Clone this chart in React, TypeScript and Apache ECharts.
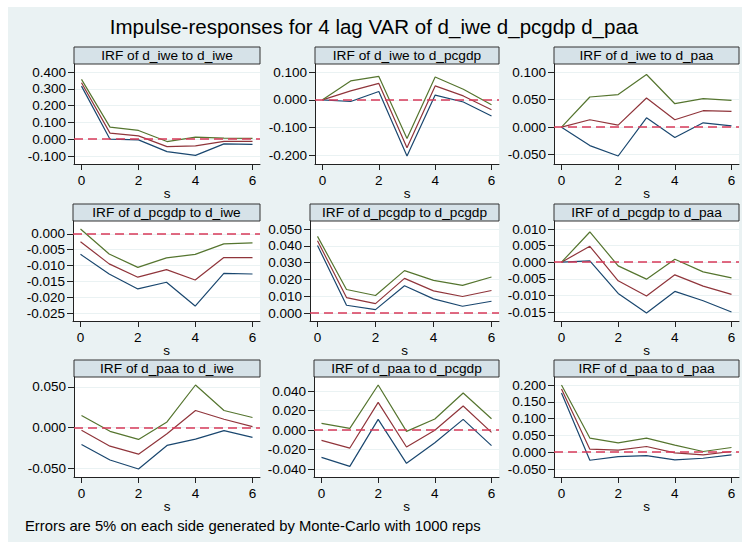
import React, { useEffect, useRef } from "react";
import * as echarts from "echarts";

// ---------- data ----------
const steps = [0, 1, 2, 3, 4, 5, 6];
const xTicks = [0, 2, 4, 6];
const chartTitle = "Impulse-responses for 4 lag VAR of d_iwe d_pcgdp d_paa";
const footNote = "Errors are 5% on each side generated by Monte-Carlo with 1000 reps";
const xAxisTitle = "s";

const panelTitles = [
  "IRF of d_iwe to d_iwe",
  "IRF of d_iwe to d_pcgdp",
  "IRF of d_iwe to d_paa",
  "IRF of d_pcgdp to d_iwe",
  "IRF of d_pcgdp to d_pcgdp",
  "IRF of d_pcgdp to d_paa",
  "IRF of d_paa to d_iwe",
  "IRF of d_paa to d_pcgdp",
  "IRF of d_paa to d_paa",
];

const iweIweUpper = [0.356, 0.072, 0.052, -0.014, 0.012, 0.006, 0.005];
const iweIweIrf = [0.336, 0.036, 0.02, -0.044, -0.04, -0.013, -0.013];
const iweIweLower = [0.316, 0.0, -0.004, -0.074, -0.096, -0.028, -0.031];
const iweIweTicks = [-0.1, 0, 0.1, 0.2, 0.3, 0.4];

const iwePcgdpUpper = [0, 0.068, 0.084, -0.139, 0.082, 0.038, -0.018];
const iwePcgdpIrf = [0, 0.032, 0.059, -0.172, 0.05, 0.014, -0.036];
const iwePcgdpLower = [0, -0.006, 0.03, -0.202, 0.017, -0.008, -0.058];
const iwePcgdpTicks = [-0.2, -0.1, 0, 0.1];

const iwePaaUpper = [0, 0.0547, 0.059, 0.0954, 0.0425, 0.0516, 0.0486];
const iwePaaIrf = [0, 0.0134, 0.0036, 0.0529, 0.0134, 0.0298, 0.0286];
const iwePaaLower = [0, -0.0334, -0.0523, 0.017, -0.0188, 0.0079, 0.0024];
const iwePaaTicks = [-0.05, 0, 0.05, 0.1];

const pcgdpIweUpper = [0.0015, -0.0064, -0.0106, -0.0076, -0.0065, -0.0032, -0.0029];
const pcgdpIweIrf = [-0.0025, -0.0095, -0.0137, -0.0113, -0.0146, -0.0075, -0.0075];
const pcgdpIweLower = [-0.0065, -0.0127, -0.0174, -0.0153, -0.0228, -0.0125, -0.0127];
const pcgdpIweTicks = [-0.025, -0.02, -0.015, -0.01, -0.005, 0];

const pcgdpPcgdpUpper = [0.0456, 0.014, 0.0104, 0.0252, 0.0194, 0.0164, 0.0214];
const pcgdpPcgdpIrf = [0.043, 0.0092, 0.0056, 0.0206, 0.0132, 0.0098, 0.0134];
const pcgdpPcgdpLower = [0.0402, 0.0046, 0.002, 0.0162, 0.0084, 0.004, 0.007];
const pcgdpPcgdpTicks = [0, 0.01, 0.02, 0.03, 0.04, 0.05];

const pcgdpPaaUpper = [0, 0.0091, -0.0011, -0.0051, 0.0009, -0.0029, -0.0047];
const pcgdpPaaIrf = [0, 0.0048, -0.0056, -0.0102, -0.0038, -0.0072, -0.0097];
const pcgdpPaaLower = [0, 0.0004, -0.0094, -0.0153, -0.0088, -0.0116, -0.015];
const pcgdpPaaTicks = [-0.015, -0.01, -0.005, 0, 0.005, 0.01];

const paaIweUpper = [0.0148, -0.0045, -0.0144, 0.007, 0.0523, 0.021, 0.0124];
const paaIweIrf = [-0.0033, -0.0227, -0.0325, -0.0074, 0.021, 0.0103, 0.0012];
const paaIweLower = [-0.0206, -0.0396, -0.0507, -0.0218, -0.014, -0.0037, -0.012];
const paaIweTicks = [-0.05, 0, 0.05];

const paaPcgdpUpper = [0.0068, 0.0017, 0.0462, -0.0014, 0.0113, 0.038, 0.0116];
const paaPcgdpIrf = [-0.0106, -0.0185, 0.0284, -0.0174, -0.0003, 0.0246, -0.0024];
const paaPcgdpLower = [-0.028, -0.0373, 0.0109, -0.0342, -0.013, 0.0109, -0.016];
const paaPcgdpTicks = [-0.04, -0.02, 0, 0.02, 0.04];

const paaPaaUpper = [0.2, 0.042, 0.028, 0.042, 0.021, 0.002, 0.014];
const paaPaaIrf = [0.188, 0.009, 0.006, 0.017, -0.002, -0.008, 0.002];
const paaPaaLower = [0.176, -0.024, -0.013, -0.01, -0.023, -0.018, -0.008];
const paaPaaTicks = [-0.05, 0, 0.05, 0.1, 0.15, 0.2];

const panelUpper = [iweIweUpper, iwePcgdpUpper, iwePaaUpper, pcgdpIweUpper, pcgdpPcgdpUpper, pcgdpPaaUpper, paaIweUpper, paaPcgdpUpper, paaPaaUpper];
const panelIrf = [iweIweIrf, iwePcgdpIrf, iwePaaIrf, pcgdpIweIrf, pcgdpPcgdpIrf, pcgdpPaaIrf, paaIweIrf, paaPcgdpIrf, paaPaaIrf];
const panelLower = [iweIweLower, iwePcgdpLower, iwePaaLower, pcgdpIweLower, pcgdpPcgdpLower, pcgdpPaaLower, paaIweLower, paaPcgdpLower, paaPaaLower];
const panelTicks = [iweIweTicks, iwePcgdpTicks, iwePaaTicks, pcgdpIweTicks, pcgdpPcgdpTicks, pcgdpPaaTicks, paaIweTicks, paaPcgdpTicks, paaPaaTicks];

// ---------- layout & style ----------
const W = 742;
const H = 542;
const FONT = "'Liberation Sans', Arial, Helvetica, sans-serif";
const panelLeft = [74, 315, 554, 73, 310, 554, 74, 314, 554];
const colRight = [260, 499, 739];
const rowTop = [64, 221, 377];
const plotH = 100;
const headerH = 17;
const padY = 8;
const padX = 7.5;
const colUpper = "#55752f";
const colIrf = "#90353b";
const colLower = "#1a476f";
const colRef = "#d83a5a";
const axisCol = "#222222";
const tickFont = 13.5;

function App() {
  const ref = useRef<HTMLDivElement>(null);

  useEffect(() => {
    if (!ref.current) return;
    const chart = echarts.init(ref.current, null, { renderer: "svg" });

    const grids: any[] = [];
    const xAxes: any[] = [];
    const yAxes: any[] = [];
    const series: any[] = [];
    const graphics: any[] = [];

    for (let i = 0; i < 9; i++) {
      const col = i % 3;
      const row = Math.floor(i / 3);
      const left = panelLeft[i];
      const width = colRight[col] - left;
      const top = rowTop[row];
      const ticks = panelTicks[i];
      const all = [...panelUpper[i], ...panelIrf[i], ...panelLower[i]];
      const lo = Math.min(ticks[0], ...all);
      const hi = Math.max(ticks[ticks.length - 1], ...all);
      const pad = ((hi - lo) * padY) / (plotH - 2 * padY);
      const unit = (width - 2 * padX) / 6;

      grids.push({
        left,
        top,
        width,
        height: plotH,
        show: true,
        backgroundColor: "#ffffff",
        borderWidth: 0,
      });

      xAxes.push({
        type: "value",
        gridIndex: i,
        min: -padX / unit,
        max: 6 + padX / unit,
        name: xAxisTitle,
        nameLocation: "middle",
        nameGap: 22,
        nameMoveOverlap: false,
        nameTextStyle: { fontFamily: FONT, fontSize: tickFont, color: "#000" },
        axisLine: { show: true, onZero: false, lineStyle: { color: axisCol, width: 1 } },
        axisTick: { show: true, length: 6, customValues: xTicks, lineStyle: { color: axisCol, width: 1 } },
        axisLabel: {
          show: true,
          customValues: xTicks,
          margin: 9,
          fontFamily: FONT,
          fontSize: tickFont,
          color: "#000",
          formatter: (v: number) => String(Math.round(v)),
        },
        splitLine: { show: false },
      });

      yAxes.push({
        type: "value",
        gridIndex: i,
        min: lo - pad,
        max: hi + pad,
        axisLine: { show: true, onZero: false, lineStyle: { color: axisCol, width: 1 } },
        axisTick: { show: true, length: 6, customValues: ticks, lineStyle: { color: axisCol, width: 1 } },
        axisLabel: {
          show: true,
          customValues: ticks,
          margin: 8,
          fontFamily: FONT,
          fontSize: tickFont,
          color: "#000",
          formatter: (v: number) => (Math.abs(v) < 1e-12 ? "0.000" : v.toFixed(3)),
        },
        splitLine: { show: true, lineStyle: { color: "#eaf2f3", width: 1 } },
      });

      const mk = (arr: number[], color: string, withRef: boolean) => {
        const s: any = {
          type: "line",
          xAxisIndex: i,
          yAxisIndex: i,
          data: steps.map((st, k) => [st, arr[k]]),
          showSymbol: false,
          symbol: "none",
          lineStyle: { color, width: 1.2 },
          itemStyle: { color },
          silent: true,
          z: 2,
        };
        if (withRef) {
          s.markLine = {
            silent: true,
            symbol: ["none", "none"],
            label: { show: false },
            lineStyle: { color: colRef, type: [9, 5], width: 1.6 },
            data: [{ yAxis: 0 }],
            z: 5,
          };
        }
        return s;
      };
      series.push(mk(panelLower[i], colLower, false));
      series.push(mk(panelIrf[i], colIrf, false));
      series.push(mk(panelUpper[i], colUpper, true));

      graphics.push({
        type: "rect",
        shape: { x: left, y: top - headerH, width, height: headerH },
        style: { fill: "#d6e2e8", stroke: "#333333", lineWidth: 1 },
        silent: true,
      });
      graphics.push({
        type: "text",
        x: left + width / 2,
        y: top - headerH / 2,
        style: {
          text: panelTitles[i],
          fontFamily: FONT,
          fontSize: 13.7,
          fill: "#000",
          textAlign: "center",
          textVerticalAlign: "middle",
        },
        silent: true,
      });
    }

    graphics.push({
      type: "text",
      x: 374,
      y: 26,
      style: {
        text: chartTitle,
        fontFamily: FONT,
        fontSize: 20.5,
        fill: "#000",
        textAlign: "center",
        textVerticalAlign: "middle",
      },
      silent: true,
    });
    graphics.push({
      type: "text",
      x: 25,
      y: 525.5,
      style: {
        text: footNote,
        fontFamily: FONT,
        fontSize: 14.8,
        fill: "#000",
        textAlign: "left",
        textVerticalAlign: "middle",
      },
      silent: true,
    });

    chart.setOption({
      animation: false,
      backgroundColor: "transparent",
      grid: grids,
      xAxis: xAxes,
      yAxis: yAxes,
      series,
      graphic: graphics,
    });

    return () => chart.dispose();
  }, []);

  return (
    <div style={{ position: "absolute", left: 0, top: 0, width: W, height: H, background: "#ffffff" }}>
      <div style={{ position: "absolute", left: 8, top: 7, right: 0, bottom: 0, background: "#eaf2f3" }} />
      <div ref={ref} style={{ position: "absolute", left: 0, top: 0, width: W, height: H }} />
    </div>
  );
}

export default App;
